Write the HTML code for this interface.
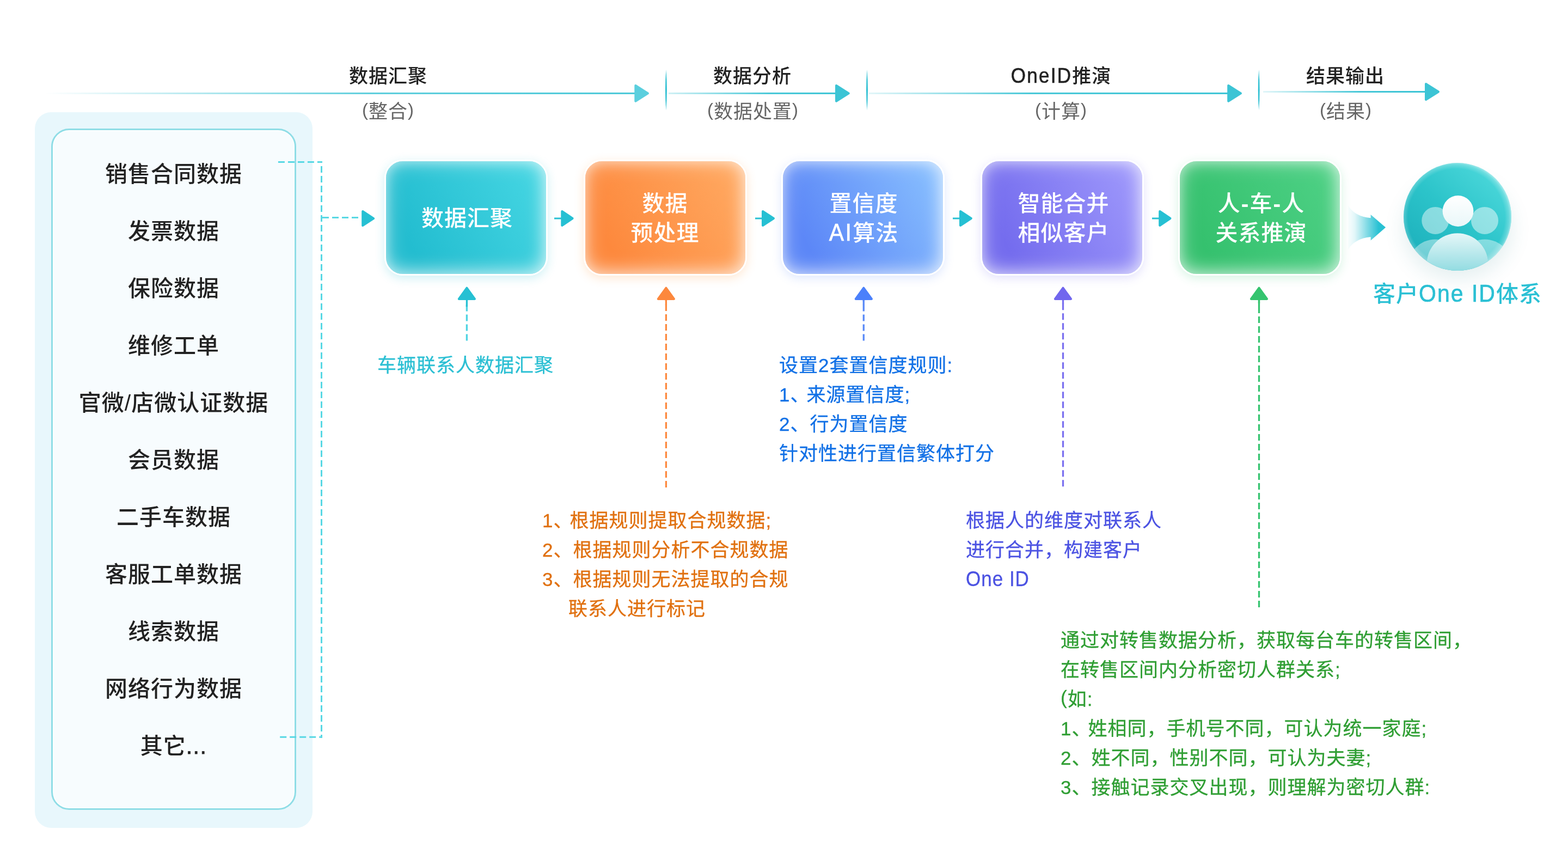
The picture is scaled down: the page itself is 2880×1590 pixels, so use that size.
<!DOCTYPE html>
<html lang="zh-CN">
<head>
<meta charset="utf-8">
<title>客户One ID体系</title>
<style>
*{box-sizing:border-box;margin:0;padding:0}
html,body{width:2880px;height:1590px;background:#fff;overflow:hidden}
body{position:relative;font-family:"Liberation Sans","Noto Sans CJK SC",sans-serif;color:#222}
.panel-outer{position:absolute;left:64px;top:206px;width:510px;height:1314px;border-radius:30px;background:#e8f7fc}
.panel-inner{position:absolute;left:94px;top:236px;width:450px;height:1251px;border-radius:33px;background:#f7fcfe;border:3px solid #8fdde6;box-shadow:inset 0 0 0 1.5px rgba(255,255,255,.85)}
.list{position:absolute;left:94px;top:267.5px;width:450px;list-style:none}
.list li{height:105px;line-height:105px;text-align:center;font-size:41px;letter-spacing:1px;font-weight:500;color:#222;white-space:nowrap}
.ttl{position:absolute;font-size:35px;letter-spacing:1px;font-weight:500;line-height:50px;height:50px;white-space:nowrap;color:#222;text-align:center;width:400px}
.sub{position:absolute;font-size:35px;letter-spacing:1px;font-weight:400;line-height:50px;height:50px;white-space:nowrap;color:#666;text-align:center;width:400px}
.box{position:absolute;top:293px;width:300px;height:213px;padding:3px 0 0 0;border:3px solid #fff;border-radius:34px;color:#fff;font-size:41px;letter-spacing:1px;font-weight:500;line-height:54px;text-align:center;display:flex;align-items:center;justify-content:center;white-space:nowrap}
.b1{left:706px;padding-left:4px;background:linear-gradient(62deg,#23bdd0 18%,#44d5e2 92%);box-shadow:0 5px 18px rgba(37,191,210,.22),inset 0 0 38px rgba(255,255,255,.5),inset -5px -6px 28px rgba(255,255,255,.35),inset 0 3px 18px rgba(255,255,255,.2)}
.b2{left:1072px;padding-right:1px;background:linear-gradient(62deg,#fd893d 18%,#ffa860 92%);box-shadow:0 5px 18px rgba(255,160,70,.24),inset 0 0 38px rgba(255,255,255,.5),inset -5px -6px 28px rgba(255,255,255,.35),inset 0 3px 18px rgba(255,255,255,.2)}
.b3{left:1435px;padding-left:3px;background:linear-gradient(62deg,#5c87f7 18%,#86bdfe 92%);box-shadow:0 5px 18px rgba(96,140,248,.2),inset 0 0 38px rgba(255,255,255,.5),inset -5px -6px 28px rgba(255,255,255,.35),inset 0 3px 18px rgba(255,255,255,.2)}
.b4{left:1801px;padding-left:5px;background:linear-gradient(62deg,#746cee 18%,#9d97fb 92%);box-shadow:0 5px 18px rgba(119,111,238,.2),inset 0 0 38px rgba(255,255,255,.5),inset -5px -6px 28px rgba(255,255,255,.35),inset 0 3px 18px rgba(255,255,255,.2)}
.b5{left:2164px;padding-left:5px;background:linear-gradient(62deg,#35c16e 18%,#4dd084 92%);box-shadow:0 5px 18px rgba(60,200,118,.2),inset 0 0 38px rgba(255,255,255,.5),inset -5px -6px 28px rgba(255,255,255,.35),inset 0 3px 18px rgba(255,255,255,.2)}
.note{position:absolute;font-size:35px;letter-spacing:1px;font-weight:400;-webkit-text-stroke:.3px currentColor;line-height:54px;white-space:pre}
.note div{height:54px}
.n1{margin-right:-6px}
.en,.en2,.en3{display:inline-block;line-height:1;transform:scaleY(1.1);transform-origin:0 84.6%}
.en{letter-spacing:2.3px;-webkit-text-stroke:.6px currentColor}
.en2{letter-spacing:2px;-webkit-text-stroke:.6px currentColor}
.dt{-webkit-text-stroke:.8px currentColor;letter-spacing:1.5px}
.hy{font-weight:700;letter-spacing:1px;margin:0 1px}
.p{position:relative;top:-4px;font-size:33px}
.p2{position:relative;top:-3px}
.lbl{position:absolute;font-size:41px;letter-spacing:1px;font-weight:500;line-height:56px;color:#2bc0d4;white-space:nowrap;text-align:center;width:400px}
svg{position:absolute;left:0;top:0}
#stage{position:absolute;left:0;top:0;width:2880px;height:1590px;will-change:transform}
</style>
</head>
<body>
<div id="stage">
<div class="panel-outer"></div>
<div class="panel-inner"></div>
<ul class="list">
<li>销售合同数据</li>
<li>发票数据</li>
<li>保险数据</li>
<li>维修工单</li>
<li>官微/店微认证数据</li>
<li>会员数据</li>
<li>二手车数据</li>
<li>客服工单数据</li>
<li>线索数据</li>
<li>网络行为数据</li>
<li>其它<span class="dt">...</span></li>
</ul>

<div class="ttl" style="left:513px;top:115px">数据汇聚</div>
<div class="sub" style="left:513px;top:180px"><span class="p">(</span>整合<span class="p">)</span></div>
<div class="ttl" style="left:1182px;top:115px">数据分析</div>
<div class="sub" style="left:1183px;top:180px"><span class="p">(</span>数据处置<span class="p">)</span></div>
<div class="ttl" style="left:1749px;top:115px"><span class="en">OneID</span>推演</div>
<div class="sub" style="left:1749px;top:180px"><span class="p">(</span>计算<span class="p">)</span></div>
<div class="ttl" style="left:2271px;top:115px">结果输出</div>
<div class="sub" style="left:2272px;top:180px"><span class="p">(</span>结果<span class="p">)</span></div>

<div class="box b1"><div>数据汇聚</div></div>
<div class="box b2"><div>数据<br>预处理</div></div>
<div class="box b3"><div>置信度<br><span class="en">AI</span>算法</div></div>
<div class="box b4"><div>智能合并<br>相似客户</div></div>
<div class="box b5"><div>人<span class="hy">-</span>车<span class="hy">-</span>人<br>关系推演</div></div>

<div class="note" style="left:693px;top:643.5px;color:#2bbfd3">车辆联系人数据汇聚</div>
<div class="note" style="left:1431px;top:643.5px;color:#1170e6"><div>设置2套置信度规则:</div><div><span class="n1">1、</span>来源置信度;</div><div>2、行为置信度</div><div>针对性进行置信繁体打分</div></div>
<div class="note" style="left:996px;top:928.5px;color:#e0700f"><div><span class="n1">1、</span>根据规则提取合规数据;</div><div>2、根据规则分析不合规数据</div><div>3、根据规则无法提取的合规</div><div style="padding-left:48px">联系人进行标记</div></div>
<div class="note" style="left:1774px;top:928.5px;color:#4b52e2"><div>根据人的维度对联系人</div><div>进行合并，构建客户</div><div><span class="en3">One ID</span></div></div>
<div class="note" style="left:1948px;top:1148.5px;color:#2f9e33"><div>通过对转售数据分析，获取每台车的转售区间，</div><div>在转售区间内分析密切人群关系;</div><div><span class="p2">(</span>如:</div><div><span class="n1">1、</span>姓相同，手机号不同，可认为统一家庭;</div><div>2、姓不同，性别不同，可认为夫妻;</div><div>3、接触记录交叉出现，则理解为密切人群:</div></div>

<div class="lbl" style="left:2477px;top:512px">客户<span class="en2">One ID</span>体系</div>

<svg width="2880" height="1590" viewBox="0 0 2880 1590">
<defs>
<linearGradient id="ga1" gradientUnits="userSpaceOnUse" x1="84" y1="0" x2="1168" y2="0"><stop offset="0" stop-color="#4ac8d8" stop-opacity="0"/><stop offset=".55" stop-color="#4ac8d8" stop-opacity=".9"/><stop offset="1" stop-color="#4ac8d8"/></linearGradient>
<linearGradient id="ga2" gradientUnits="userSpaceOnUse" x1="1228" y1="0" x2="1536" y2="0"><stop offset="0" stop-color="#3cc4d5" stop-opacity=".25"/><stop offset=".6" stop-color="#3cc4d5" stop-opacity=".95"/><stop offset="1" stop-color="#3cc4d5"/></linearGradient>
<linearGradient id="ga3" gradientUnits="userSpaceOnUse" x1="1596" y1="0" x2="2256" y2="0"><stop offset="0" stop-color="#3cc4d5" stop-opacity=".15"/><stop offset=".45" stop-color="#3cc4d5" stop-opacity=".95"/><stop offset="1" stop-color="#3cc4d5"/></linearGradient>
<linearGradient id="ga4" gradientUnits="userSpaceOnUse" x1="2320" y1="0" x2="2619" y2="0"><stop offset="0" stop-color="#3cc4d5" stop-opacity=".15"/><stop offset=".6" stop-color="#3cc4d5" stop-opacity=".95"/><stop offset="1" stop-color="#3cc4d5"/></linearGradient>
<linearGradient id="gbig" gradientUnits="userSpaceOnUse" x1="2474" y1="0" x2="2532" y2="0"><stop offset="0" stop-color="#29c1d3" stop-opacity="0"/><stop offset=".25" stop-color="#29c1d3" stop-opacity=".14"/><stop offset="1" stop-color="#29c1d3"/></linearGradient>
<linearGradient id="gcirc" x1=".85" y1=".15" x2=".2" y2=".9"><stop offset="0" stop-color="#49d6d9"/><stop offset=".5" stop-color="#2cc4ca"/><stop offset="1" stop-color="#1eb2bd"/></linearGradient>
<radialGradient id="gring" cx=".49" cy=".505" r=".51"><stop offset="0" stop-color="#fff" stop-opacity="0"/><stop offset=".88" stop-color="#fff" stop-opacity="0"/><stop offset=".96" stop-color="#fff" stop-opacity=".22"/><stop offset="1" stop-color="#fff" stop-opacity=".5"/></radialGradient>
<linearGradient id="gbody" x1="0" y1="0" x2="0" y2="1"><stop offset="0" stop-color="#fff" stop-opacity=".88"/><stop offset=".6" stop-color="#fff" stop-opacity=".5"/></linearGradient>
<linearGradient id="gside" x1="0" y1="0" x2="0" y2="1"><stop offset="0" stop-color="#fff" stop-opacity=".42"/><stop offset=".6" stop-color="#fff" stop-opacity=".3"/></linearGradient>
<linearGradient id="ghead" x1="0" y1="0" x2="0" y2="1"><stop offset="0" stop-color="#fff"/><stop offset="1" stop-color="#e9f7f9"/></linearGradient>
<clipPath id="cc"><circle cx="2677" cy="398" r="99"/></clipPath>
<filter id="fsh" x="-50%" y="-50%" width="200%" height="200%"><feGaussianBlur stdDeviation="18"/></filter>
</defs>

<!-- top phase arrows -->
<g>
<rect x="84" y="169.9" width="1084" height="3" fill="url(#ga1)"/>
<polygon points="1167.3,157 1190,171.4 1167.3,185.7" fill="#5bcfde" stroke="#5bcfde" stroke-width="4" stroke-linejoin="round"/>
<rect x="1228" y="169.9" width="308" height="3" fill="url(#ga2)"/>
<polygon points="1536,157 1558.8,171.4 1536,185.7" fill="#3cc4d5" stroke="#3cc4d5" stroke-width="4" stroke-linejoin="round"/>
<rect x="1596" y="169.9" width="660" height="3" fill="url(#ga3)"/>
<polygon points="2256.2,157 2279,171.4 2256.2,185.7" fill="#3cc4d5" stroke="#3cc4d5" stroke-width="4" stroke-linejoin="round"/>
<rect x="2320" y="167" width="299" height="3" fill="url(#ga4)"/>
<polygon points="2619,154 2642,168.5 2619,183" fill="#3cc4d5" stroke="#3cc4d5" stroke-width="4" stroke-linejoin="round"/>
<path d="M1223.4,128 Q1226.3,165.3 1223.4,202.6 Q1220.5,165.3 1223.4,128Z" fill="#2bbfd2"/>
<path d="M1592.5,128 Q1595.4,165.3 1592.5,202.6 Q1589.6,165.3 1592.5,128Z" fill="#2bbfd2"/>
<path d="M2312.2,128 Q2315.1,165.3 2312.2,202.6 Q2309.3,165.3 2312.2,128Z" fill="#2bbfd2"/>
</g>

<!-- dashed connector from list -->
<g fill="none" stroke="#58d8e4" stroke-width="3">
<path d="M510.9,297.5H592" stroke-dasharray="12 6"/>
<path d="M590.5,305.1V1354.8" stroke-dasharray="12 6"/>
<path d="M514.2,1353.2H592" stroke-dasharray="12 6"/>
<path d="M592,399.4H658" stroke-dasharray="12 6"/>
</g>
<polygon points="666.2,388 686.2,401.1 666.2,414.2" fill="#26c0d3" stroke="#26c0d3" stroke-width="4" stroke-linejoin="round"/>

<!-- arrows between boxes -->
<g fill="#26c0d3" stroke="#26c0d3" stroke-linejoin="round">
<path d="M1018,401H1032" stroke-width="3" fill="none"/><polygon points="1032.3,388 1051.6,401 1032.3,414" stroke-width="4"/>
<path d="M1387,401H1401" stroke-width="3" fill="none"/><polygon points="1401,388 1421,401 1401,414" stroke-width="4"/>
<path d="M1750,401H1764" stroke-width="3" fill="none"/><polygon points="1764,388 1783.8,401 1764,414" stroke-width="4"/>
<path d="M2116,401H2130" stroke-width="3" fill="none"/><polygon points="2130.2,388 2149.5,401 2130.2,414" stroke-width="4"/>
</g>

<!-- up arrows -->
<g stroke-linejoin="round" fill="none" stroke-width="3.3">
<path d="M857.4,559.5V625.5" stroke="#4fd4e2" stroke-dasharray="12 6"/>
<path d="M857.4,549V563.2" stroke="#26c0d3"/>
<polygon points="857.4,528.7 872,549 842.8,549" fill="#26c0d3" stroke="#26c0d3" stroke-width="4"/>
<path d="M1223.4,549V895" stroke="#fd8a40" stroke-dasharray="12 6" stroke-dashoffset="8"/>
<path d="M1223.4,549V560" stroke="#fd8a40"/>
<polygon points="1223.4,528.7 1238,549 1208.8,549" fill="#fc883d" stroke="#fc883d" stroke-width="4"/>
<path d="M1586.3,549V625.5" stroke="#5b8af8" stroke-dasharray="12 6" stroke-dashoffset="7.5"/>
<path d="M1586.3,549V560" stroke="#5b8af8"/>
<polygon points="1586.3,528.7 1601,549 1571.7,549" fill="#4b80fb" stroke="#4b80fb" stroke-width="4"/>
<path d="M1952.5,549V893.3" stroke="#7a6ff0" stroke-dasharray="12 6" stroke-dashoffset="9.7"/>
<path d="M1952.5,549V558" stroke="#7a6ff0"/>
<polygon points="1952.5,528.7 1967.1,549 1937.9,549" fill="#7166ee" stroke="#7166ee" stroke-width="4"/>
<path d="M2312.5,549V1114.9" stroke="#35c46f" stroke-dasharray="12 6" stroke-dashoffset="4.1"/>
<path d="M2312.5,549V563" stroke="#35c46f"/>
<polygon points="2312.5,528.7 2327.1,549 2297.9,549" fill="#35c46f" stroke="#35c46f" stroke-width="4"/>
</g>

<!-- big arrow -->
<path d="M2476,377 Q2488,397.5 2517.6,400.3 V393.9 L2545.1,417.6 L2517.6,441.4 V435 Q2488,438 2476,458.5Z" fill="url(#gbig)"/>

<!-- user icon -->
<ellipse cx="2677" cy="420" rx="100" ry="92" fill="#2a8088" opacity=".12" filter="url(#fsh)"/>
<circle cx="2677" cy="398" r="99" fill="url(#gcirc)"/>
<circle cx="2677" cy="398" r="99" fill="url(#gring)"/>
<g clip-path="url(#cc)">
<circle cx="2636.3" cy="489.5" r="50" fill="url(#gside)"/>
<circle cx="2727" cy="489.5" r="50" fill="url(#gside)"/>
<circle cx="2636.3" cy="404.9" r="25" fill="#fff" fill-opacity=".45"/>
<circle cx="2727" cy="404.9" r="25" fill="#fff" fill-opacity=".47"/>
<circle cx="2677" cy="484.7" r="56.5" fill="#2abac5"/>
<circle cx="2677" cy="484.7" r="56.5" fill="url(#gbody)"/>
<circle cx="2678" cy="387.5" r="28.4" fill="url(#ghead)"/>
</g>
</svg>
</div>
</body>
</html>
